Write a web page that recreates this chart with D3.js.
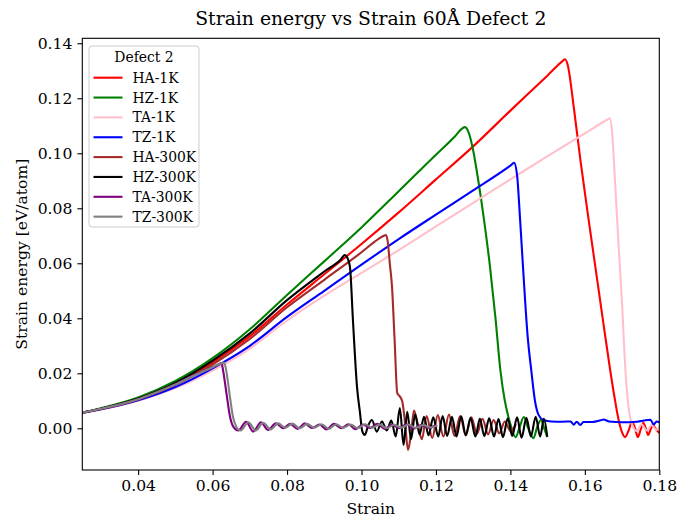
<!DOCTYPE html>
<html>
<head>
<meta charset="utf-8">
<script src="https://cdn.jsdelivr.net/npm/d3@7"></script>
<style>
  body { margin: 0; background: #fff; }
  svg { font-family: "DejaVu Serif", serif; }
</style>
</head>
<body>
<div id="chart"></div>
<script>
// series order is the legend order
const seriesNames = ["HA-1K", "HZ-1K", "TA-1K", "TZ-1K", "HA-300K", "HZ-300K", "TA-300K", "TZ-300K"];
const seriesColors = ["red", "green", "pink", "blue", "brown", "black", "purple", "gray"];

const xTicks = [0.04, 0.06, 0.08, 0.10, 0.12, 0.14, 0.16, 0.18];
const yTicks = [0.00, 0.02, 0.04, 0.06, 0.08, 0.10, 0.12, 0.14];

// [strain, strain energy]
const hA1K = [[0.025,0.0057],[0.030,0.0071],[0.040,0.0107],[0.050,0.0162],[0.060,0.0240],[0.070,0.0335],[0.080,0.0450],[0.090,0.0560],[0.100,0.0670],[0.110,0.0785],[0.120,0.0905],[0.130,0.1025],[0.140,0.1155],[0.150,0.1283],[0.1540,0.1335],[0.1547,0.1342],[0.1554,0.1321],[0.1570,0.1170],[0.1588,0.0976],[0.1610,0.0760],[0.1630,0.0570],[0.1650,0.0380],[0.1668,0.0212],[0.1680,0.0110],[0.1690,0.0035],[0.1700,-0.0015],[0.1708,-0.0032],[0.1717,-0.0010],[0.1727,0.0023],[0.1735,0.0000],[0.1742,-0.0032],[0.1750,-0.0005],[0.1757,0.0020],[0.1764,-0.0002],[0.1770,-0.0024],[0.1777,-0.0003],[0.1783,0.0012],[0.1792,-0.0005],[0.1800,-0.0017]];

const hZ1K = [[0.025,0.0057],[0.030,0.0073],[0.040,0.0112],[0.050,0.0172],[0.060,0.0255],[0.070,0.0360],[0.080,0.0485],[0.090,0.0607],[0.100,0.0730],[0.110,0.0862],[0.120,0.0995],[0.1250,0.1060],[0.1270,0.1090],[0.1278,0.1095],[0.1288,0.1075],[0.1300,0.1010],[0.1315,0.0890],[0.1330,0.0750],[0.1345,0.0590],[0.1360,0.0400],[0.1373,0.0212],[0.1385,0.0100],[0.1398,0.0025],[0.1414,-0.0032],[0.1425,0.0005],[0.1436,0.0041],[0.1448,0.0000],[0.1462,-0.0036],[0.1472,0.0005],[0.1482,0.0030],[0.1492,-0.0005],[0.1499,-0.0032]];

const tA1K = [[0.025,0.0056],[0.030,0.0068],[0.040,0.0100],[0.050,0.0146],[0.060,0.0210],[0.070,0.0290],[0.080,0.0392],[0.090,0.0482],[0.100,0.0565],[0.110,0.0648],[0.120,0.0734],[0.130,0.0820],[0.140,0.0905],[0.150,0.0990],[0.160,0.1072],[0.1660,0.1122],[0.1667,0.1127],[0.1673,0.1080],[0.1681,0.0900],[0.1690,0.0680],[0.1700,0.0450],[0.1709,0.0212],[0.1718,0.0070],[0.1728,0.0010],[0.1740,-0.0010],[0.1752,0.0015],[0.1766,-0.0008],[0.1780,0.0012],[0.1792,-0.0006],[0.1800,0.0004]];

const tZ1K = [[0.025,0.0056],[0.030,0.0069],[0.040,0.0102],[0.050,0.0150],[0.060,0.0218],[0.070,0.0300],[0.080,0.0405],[0.090,0.0500],[0.100,0.0595],[0.110,0.0688],[0.120,0.0777],[0.130,0.0865],[0.140,0.0955],[0.1410,0.0965],[0.1418,0.0920],[0.1426,0.0760],[0.1436,0.0540],[0.1446,0.0340],[0.1456,0.0212],[0.1466,0.0100],[0.1476,0.0048],[0.1489,0.0030],[0.1510,0.0025],[0.1540,0.0024],[0.1562,0.0025],[0.1570,0.0013],[0.1578,0.0024],[0.1588,0.0012],[0.1596,0.0023],[0.1620,0.0023],[0.1640,0.0028],[0.1650,0.0032],[0.1665,0.0025],[0.1700,0.0022],[0.1740,0.0024],[0.1776,0.0031],[0.1785,0.0014],[0.1793,0.0025],[0.1800,0.0022]];

const hA300K = [[0.025,0.0057],[0.030,0.0070],[0.040,0.0105],[0.050,0.0158],[0.060,0.0232],[0.070,0.0325],[0.080,0.0440],[0.090,0.0540],[0.100,0.0640],[0.1045,0.0688],[0.1060,0.0700],[0.1066,0.0703],[0.1071,0.0674],[0.1076,0.0600],[0.1082,0.0514],[0.1089,0.0320],[0.1096,0.0128],[0.1104,0.0114],[0.1110,0.0095],[0.1117,0.0020],[0.1125,-0.0079],[0.1133,-0.0020],[0.1141,0.0065],[0.1152,0.0010],[0.1162,-0.0040],[0.1175,0.0045],[0.1190,-0.0035],[0.1205,0.0048],[0.1220,-0.0030],[0.1235,0.0050],[0.1250,-0.0028],[0.1265,0.0045],[0.1280,-0.0025],[0.1295,0.0040],[0.1310,-0.0020],[0.1325,0.0035],[0.1340,-0.0022],[0.1355,0.0030],[0.1370,-0.0018],[0.1385,0.0025],[0.1400,-0.0010],[0.1415,0.0015]];

const hZ300K = [[0.025,0.0057],[0.030,0.0071],[0.040,0.0108],[0.050,0.0165],[0.060,0.0246],[0.070,0.0345],[0.080,0.0466],[0.090,0.0570],[0.0945,0.0615],[0.0955,0.0630],[0.0962,0.0620],[0.0969,0.0587],[0.0977,0.0394],[0.0988,0.0150],[0.0996,0.0056],[0.1002,-0.0010],[0.1009,-0.0024],[0.1018,0.0010],[0.1028,0.0030],[0.1041,-0.0012],[0.1055,0.0025],[0.1068,-0.0008],[0.1080,0.0028],[0.1092,-0.0030],[0.1103,0.0074],[0.1113,-0.0060],[0.1123,0.0060],[0.1133,-0.0040],[0.1144,0.0050],[0.1156,-0.0022],[0.1168,0.0042],[0.1180,-0.0025],[0.1193,0.0040],[0.1206,-0.0030],[0.1218,0.0045],[0.1230,-0.0028],[0.1243,0.0042],[0.1255,-0.0030],[0.1268,0.0044],[0.1280,-0.0026],[0.1293,0.0038],[0.1306,-0.0030],[0.1318,0.0035],[0.1330,-0.0028],[0.1343,0.0036],[0.1356,-0.0030],[0.1368,0.0034],[0.1380,-0.0032],[0.1393,0.0036],[0.1405,-0.0028],[0.1418,0.0040],[0.1430,-0.0034],[0.1443,0.0038],[0.1455,-0.0030],[0.1468,0.0042],[0.1480,-0.0030],[0.1490,0.0035],[0.1499,-0.0030]];

const tA300K = [[0.025,0.0057],[0.030,0.0071],[0.040,0.0106],[0.050,0.0160],[0.055,0.0193],[0.060,0.0222],[0.0615,0.0232],[0.0624,0.0237],[0.0628,0.0212],[0.0638,0.0120],[0.0647,0.0041],[0.0656,0.0005],[0.0669,-0.0008],[0.0690,0.0024],[0.0709,-0.0012],[0.0730,0.0022],[0.0749,-0.0006],[0.0770,0.0018],[0.0790,0.0000],[0.0808,0.0016],[0.0828,-0.0002],[0.0848,0.0018],[0.0867,0.0001],[0.0887,0.0014],[0.0906,-0.0004],[0.0926,0.0016],[0.0945,0.0000],[0.0965,0.0015],[0.0984,-0.0003],[0.1004,0.0014],[0.1023,0.0001],[0.1043,0.0016],[0.1062,-0.0002],[0.1082,0.0013],[0.1101,0.0000],[0.1121,0.0015],[0.1140,-0.0001],[0.1160,0.0012],[0.1180,0.0002],[0.1200,0.0011]];

const tZ300K = [[0.025,0.0057],[0.030,0.0071],[0.040,0.0106],[0.050,0.0159],[0.055,0.0192],[0.060,0.0222],[0.0620,0.0234],[0.0631,0.0238],[0.0636,0.0215],[0.0646,0.0120],[0.0655,0.0040],[0.0663,0.0008],[0.0675,-0.0008],[0.0696,0.0022],[0.0716,-0.0008],[0.0736,0.0020],[0.0756,-0.0004],[0.0776,0.0018],[0.0795,0.0002],[0.0815,0.0017],[0.0834,0.0000],[0.0854,0.0016],[0.0873,0.0002],[0.0893,0.0015],[0.0912,-0.0002],[0.0932,0.0015],[0.0951,0.0002],[0.0971,0.0014],[0.0990,0.0000],[0.1010,0.0015],[0.1029,0.0002],[0.1049,0.0014],[0.1068,0.0000],[0.1088,0.0013],[0.1107,0.0002],[0.1127,0.0014],[0.1146,0.0001],[0.1166,0.0012],[0.1185,0.0003],[0.1204,0.0010]];

const seriesData = [hA1K, hZ1K, tA1K, tZ1K, hA300K, hZ300K, tA300K, tZ300K];

const width = 678;
const height = 518;
const margin = { top: 38.3, right: 18.7, bottom: 48, left: 82.3 };

const svg = d3.select("#chart").append("svg")
    .attr("width", width)
    .attr("height", height);

const x = d3.scaleLinear().domain([0.025, 0.18]).range([margin.left, width - margin.right]);
const y = d3.scaleLinear().domain([-0.01516, 0.1418]).range([height - margin.bottom, margin.top]);

svg.append("defs").append("clipPath").attr("id", "plot-clip")
    .append("rect")
    .attr("x", margin.left).attr("y", margin.top)
    .attr("width", width - margin.left - margin.right)
    .attr("height", height - margin.top - margin.bottom);

const line = d3.line()
    .x(d => x(d[0]))
    .y(d => y(d[1]))
    .curve(d3.curveMonotoneX);

const lines = svg.append("g").attr("clip-path", "url(#plot-clip)");
lines.selectAll("path")
    .data(seriesData)
    .enter()
    .append("path")
    .attr("d", line)
    .attr("fill", "none")
    .attr("stroke", (d, i) => seriesColors[i])
    .attr("stroke-width", 2.1)
    .attr("stroke-linejoin", "round");

// axes
const xAxis = svg.append("g")
    .attr("transform", `translate(0,${height - margin.bottom})`)
    .call(d3.axisBottom(x).tickValues(xTicks).tickFormat(d3.format(".2f")).tickSizeOuter(0).tickSize(4.9).tickPadding(5));
const yAxis = svg.append("g")
    .attr("transform", `translate(${margin.left},0)`)
    .call(d3.axisLeft(y).tickValues(yTicks).tickFormat(d3.format(".2f")).tickSizeOuter(0).tickSize(4.9).tickPadding(5));

[xAxis, yAxis].forEach(g => {
    g.select(".domain").remove();
    g.selectAll(".tick line").attr("stroke", "#000").attr("stroke-width", 1.1);
    g.selectAll(".tick text")
        .attr("fill", "#000")
        .style("font-family", "DejaVu Serif")
        .style("font-size", "15.6px");
});

// frame
svg.append("rect")
    .attr("x", margin.left).attr("y", margin.top)
    .attr("width", width - margin.left - margin.right)
    .attr("height", height - margin.top - margin.bottom)
    .attr("fill", "none")
    .attr("stroke", "#000")
    .attr("stroke-width", 1.1);

svg.append("text")
    .attr("x", (margin.left + width - margin.right) / 2)
    .attr("y", 25)
    .attr("text-anchor", "middle")
    .style("font-size", "18.8px")
    .text("Strain energy vs Strain 60Å Defect 2");

svg.append("text")
    .attr("x", (margin.left + width - margin.right) / 2)
    .attr("y", 514)
    .attr("text-anchor", "middle")
    .style("font-size", "15.6px")
    .text("Strain");

svg.append("text")
    .attr("transform", `translate(27,${(margin.top + height - margin.bottom) / 2}) rotate(-90)`)
    .attr("text-anchor", "middle")
    .style("font-size", "15.6px")
    .text("Strain energy [eV/atom]");

// legend
const legend = svg.append("g").attr("transform", "translate(89,46)");
legend.append("rect")
    .attr("width", 110)
    .attr("height", 181)
    .attr("rx", 3)
    .attr("fill", "#fff")
    .attr("fill-opacity", 0.8)
    .attr("stroke", "#cccccc")
    .attr("stroke-width", 1);
legend.append("text")
    .attr("x", 55)
    .attr("y", 16)
    .attr("text-anchor", "middle")
    .style("font-size", "13.9px")
    .text("Defect 2");

const entries = legend.selectAll("g.entry")
    .data(seriesNames)
    .enter()
    .append("g")
    .attr("class", "entry")
    .attr("transform", (d, i) => `translate(0,${31.7 + i * 19.85})`);
entries.append("line")
    .attr("x1", 4.5).attr("x2", 33.5)
    .attr("stroke", (d, i) => seriesColors[i])
    .attr("stroke-width", 2.1);
entries.append("text")
    .attr("x", 43.5)
    .attr("y", 5)
    .style("font-size", "13.9px")
    .text(d => d);
</script>
</body>
</html>
